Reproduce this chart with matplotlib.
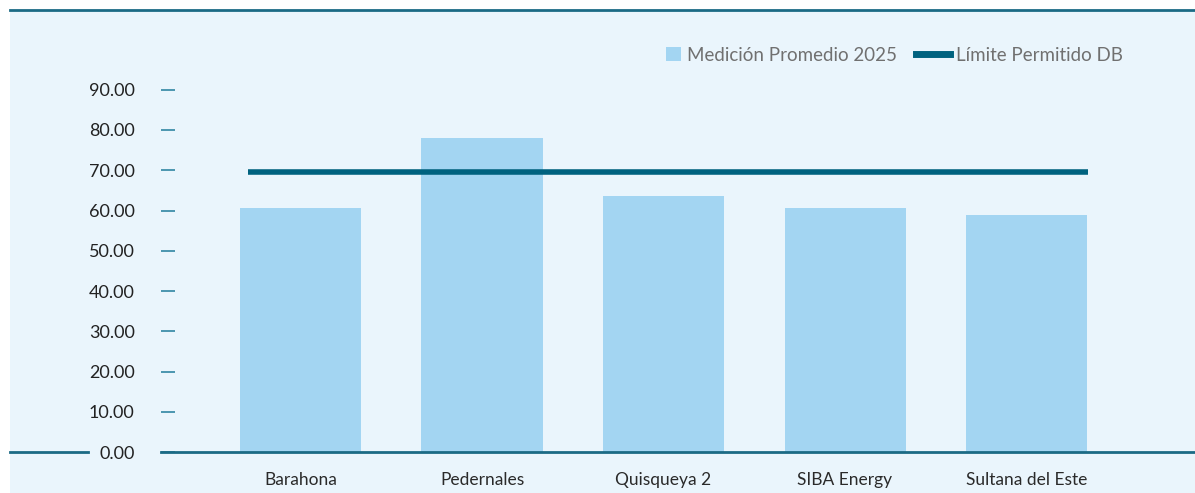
import matplotlib.pyplot as plt
from matplotlib.lines import Line2D
from matplotlib.patches import Rectangle, Patch
from matplotlib.legend_handler import HandlerPatch

plt.rcParams['font.family'] = ['Lato', 'DejaVu Sans']

# datos de medición por estación
estaciones = ['Barahona', 'Pedernales', 'Quisqueya 2', 'SIBA Energy', 'Sultana del Este']
medicion_2025 = [60.7, 78.1, 63.6, 60.7, 58.9]
limite_db = 69.5
yticks = [0, 10, 20, 30, 40, 50, 60, 70, 80, 90]

fondo = '#EAF5FC'
barra = '#A3D5F2'
teal = '#00627F'
eje = '#1B6A85'

W, H = 1195, 493
fig = plt.figure(figsize=(W / 100, H / 100), dpi=100, facecolor='white')

# panel de fondo y borde superior
fig.add_artist(Rectangle((10 / W, 0), 1 - 10 / W, 1 - 10 / H, transform=fig.transFigure,
                         facecolor=fondo, edgecolor='none', zorder=0))
fig.add_artist(Line2D([10 / W, 1], [1 - 10 / H, 1 - 10 / H], transform=fig.transFigure,
                      color=eje, lw=2, zorder=1))

ax = fig.add_axes([161 / W, 1 - 452.3 / H, 1 - 161 / W, (452.3 - 89.6) / H])
ax.set_facecolor('none')

x = list(range(len(estaciones)))
ax.bar(x, medicion_2025, width=0.667, color=barra, zorder=2)
ax.hlines(limite_db, -0.29, 4.34, color=teal, lw=4, zorder=3)

ax.set_xlim(-0.7686, 4.928)
ax.set_ylim(0, 90)
ax.set_yticks(yticks)
ax.set_yticklabels([f'{v:.2f}' for v in yticks])
ax.set_xticks(x)
ax.set_xticklabels(estaciones)

for s in ['top', 'right', 'left']:
    ax.spines[s].set_visible(False)
ax.spines['bottom'].set_color(eje)
ax.spines['bottom'].set_linewidth(2)

ax.tick_params(axis='y', direction='in', length=10, width=1.3, color='#3F8FAA',
               pad=19, labelsize=13, labelcolor='#222222')
ax.tick_params(axis='x', length=0, pad=14, labelsize=12.5, labelcolor='#2a2a2a')

# tramo del eje a la izquierda de las etiquetas
fig.add_artist(Line2D([10 / W, 88 / W], [1 - 452.3 / H, 1 - 452.3 / H], transform=fig.transFigure,
                      color=eje, lw=2, zorder=1))


# cuadrito pequeño para la serie de barras
def cuadro(legend, orig_handle, xdescent, ydescent, width, height, fontsize):
    lado = 0.42 * width
    return Rectangle((width - lado - xdescent, height / 2 - lado / 2 - ydescent), lado, lado)


handles = [Patch(facecolor=barra, edgecolor='none', label='Medición Promedio 2025'),
           Line2D([0], [0], color=teal, lw=5, label='Límite Permitido DB')]
leg = ax.legend(handles=handles, ncol=2, frameon=False, loc='upper right',
                bbox_to_anchor=((1140 - 161) / (W - 161), 1.165), fontsize=13.5,
                handlelength=1.8, handletextpad=0.35, columnspacing=1.0,
                labelcolor='#707070',
                handler_map={Patch: HandlerPatch(patch_func=cuadro)})

fig.savefig('out.png', dpi=100, facecolor='white')
